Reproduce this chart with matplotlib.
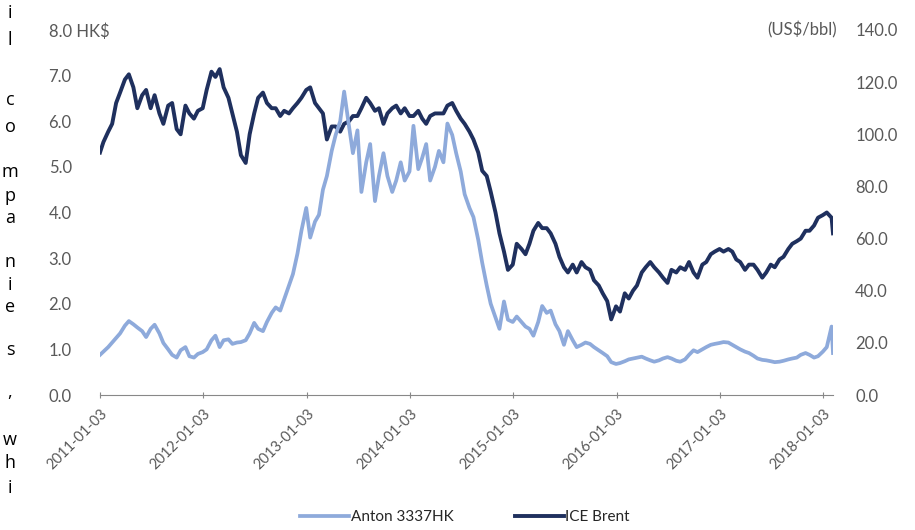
import matplotlib
matplotlib.use("Agg")
import matplotlib.pyplot as plt
import pandas as pd

# ---------------- DATA ----------------
# semi-monthly readings, 2011-01-03 .. 2018-02-06
dates = (
    [pd.Timestamp("2011-01-03")]
    + list(pd.date_range("2011-01-15", "2018-02-01", freq="SMS"))
    + [pd.Timestamp("2018-02-06")]
)

anton = [
    # 2011
    0.88, 0.95, 1.05, 1.15, 1.25, 1.35, 1.52, 1.62, 1.55, 1.48, 1.40, 1.27,
    1.45, 1.54, 1.35, 1.14, 1.00, 0.88, 0.82, 0.98, 1.05, 0.85, 0.82, 0.90,
    # 2012
    0.94, 1.00, 1.20, 1.30, 1.05, 1.20, 1.22, 1.12, 1.15, 1.16, 1.20, 1.35,
    1.58, 1.45, 1.40, 1.60, 1.80, 1.92, 1.85, 2.10, 2.40, 2.65, 3.10, 3.60,
    # 2013
    4.10, 3.45, 3.80, 3.95, 4.50, 4.80, 5.35, 5.70, 6.00, 6.65, 5.90, 5.30,
    5.80, 4.45, 5.10, 5.50, 4.25, 4.80, 5.30, 4.80, 4.45, 4.70, 5.10, 4.70,
    # 2014
    4.90, 5.90, 4.95, 5.20, 5.50, 4.70, 5.00, 5.35, 5.10, 5.95, 5.70, 5.30,
    4.90, 4.40, 4.10, 3.90, 3.40, 2.90, 2.40, 2.00, 1.70, 1.45, 2.05, 1.65,
    # 2015
    1.60, 1.72, 1.60, 1.50, 1.45, 1.30, 1.60, 1.95, 1.80, 1.85, 1.55, 1.40,
    1.10, 1.40, 1.20, 1.05, 1.10, 1.15, 1.12, 1.05, 0.98, 0.92, 0.85, 0.72,
    # 2016
    0.68, 0.70, 0.74, 0.78, 0.80, 0.82, 0.84, 0.80, 0.76, 0.73, 0.76, 0.80,
    0.83, 0.80, 0.75, 0.73, 0.78, 0.88, 0.98, 0.94, 1.00, 1.05, 1.10, 1.12,
    # 2017
    1.14, 1.16, 1.15, 1.10, 1.05, 1.00, 0.95, 0.92, 0.86, 0.80, 0.77, 0.76,
    0.74, 0.72, 0.73, 0.75, 0.78, 0.80, 0.82, 0.88, 0.92, 0.88, 0.82, 0.85,
    # 2018
    0.95, 1.05, 1.50, 0.92,
]

brent = [
    # 2011
    93, 97, 101, 104, 112, 116, 121, 123, 118, 110, 115, 117,
    110, 115, 108, 104, 111, 112, 102, 100, 111, 108, 106, 109,
    # 2012
    110, 117, 124, 122, 125, 118, 114, 108, 101, 92, 89, 100,
    108, 114, 116, 112, 110, 110, 107, 109, 108, 110, 112, 114,
    # 2013
    117, 118, 112, 110, 108, 98, 103, 103, 101, 104, 105, 107,
    107, 110, 114, 112, 109, 110, 104, 108, 110, 111, 108, 110,
    # 2014
    107, 107, 109, 106, 104, 107, 108, 108, 108, 111, 112, 109,
    106, 104, 101, 98, 93, 86, 84, 78, 70, 62, 55, 48,
    # 2015
    50, 58, 56, 54, 58, 63, 66, 64, 64, 62, 58, 53,
    49, 47, 50, 47, 51, 49, 48, 44, 42, 39, 36, 29,
    # 2016
    34, 32, 39, 37, 40, 42, 47, 49, 51, 49, 47, 45,
    43, 48, 47, 49, 48, 51, 47, 45, 50, 51, 54, 55,
    # 2017
    56, 55, 56, 55, 52, 51, 48, 50, 50, 48, 45, 47,
    50, 49, 52, 53, 56, 58, 59, 60, 63, 63, 65, 68,
    # 2018
    69, 70, 68, 62,
]

tick_dates = [pd.Timestamp(f"{y}-01-03") for y in range(2011, 2019)]
left_ticks = [0, 1, 2, 3, 4, 5, 6, 7, 8]
right_ticks = [0, 20, 40, 60, 80, 100, 120, 140]

side_letters = ["i", "l", "c", "o", "m", "p", "a", "n", "i", "e", "s", ",", "w", "h", "i"]
side_y = [13, 40, 100, 127, 172, 196, 218, 262, 285, 307, 350, 392, 440, 463, 488]

# ---------------- STYLE ----------------
LIGHT = "#8eaadb"
DARK = "#1f305e"
GREY = "#595959"
plt.rcParams["font.family"] = ["Lato", "DejaVu Sans"]

fig = plt.figure(figsize=(9.15, 5.3), dpi=100)
ax = fig.add_axes([100 / 915, 1 - 395 / 530, 733 / 915, 365 / 530])
ax2 = ax.twinx()

ax2.plot(dates, brent, color=DARK, lw=2.8, label="ICE Brent")
ax.plot(dates, anton, color=LIGHT, lw=2.7, label="Anton 3337HK")
ax.set_zorder(ax2.get_zorder() + 1)
ax.patch.set_visible(False)

ax.set_xlim(tick_dates[0], pd.Timestamp("2018-02-06"))
ax.set_ylim(0, 8)
ax2.set_ylim(0, 140)

ax.set_yticks(left_ticks)
ax.set_yticklabels([f"{v:.1f}" for v in left_ticks[:-1]] + ["8.0 HK$"], ha="left")
ax.tick_params(axis="y", length=0, pad=37, labelsize=12, labelcolor=GREY)
ax2.set_yticks(right_ticks)
ax2.set_yticklabels([f"{v:.1f}" for v in right_ticks])
ax2.tick_params(axis="y", length=0, pad=16, labelsize=12, labelcolor=GREY)
ax2.text(1.005, 140, "(US$/bbl)", transform=ax2.get_yaxis_transform(),
         ha="right", va="center", fontsize=12, color=GREY)

ax.set_xticks(tick_dates)
ax.set_xticklabels([d.strftime("%Y-%m-%d") for d in tick_dates],
                   rotation=45, ha="right", rotation_mode="anchor")
ax.tick_params(axis="x", direction="inout", length=5, color="#888888",
               labelsize=10.5, labelcolor=GREY, pad=6)

for a in (ax, ax2):
    for s in ("top", "left", "right"):
        a.spines[s].set_visible(False)
    a.spines["bottom"].set_color("#888888")
ax2.spines["bottom"].set_visible(False)

h1, l1 = ax.get_legend_handles_labels()
h2, l2 = ax2.get_legend_handles_labels()
fig.legend(h1 + h2, l1 + l2, loc="center", bbox_to_anchor=(465 / 915, 1 - 517 / 530),
           ncol=2, frameon=False, fontsize=11, handlelength=3.2, handletextpad=0.1,
           columnspacing=4.0, labelcolor="#262626")

for ch, y in zip(side_letters, side_y):
    fig.text(10 / 915, 1 - y / 530, ch, ha="center", va="center", fontsize=13,
             color="black", family=["Open Sans", "DejaVu Sans"])

fig.savefig("out.png", dpi=100)
